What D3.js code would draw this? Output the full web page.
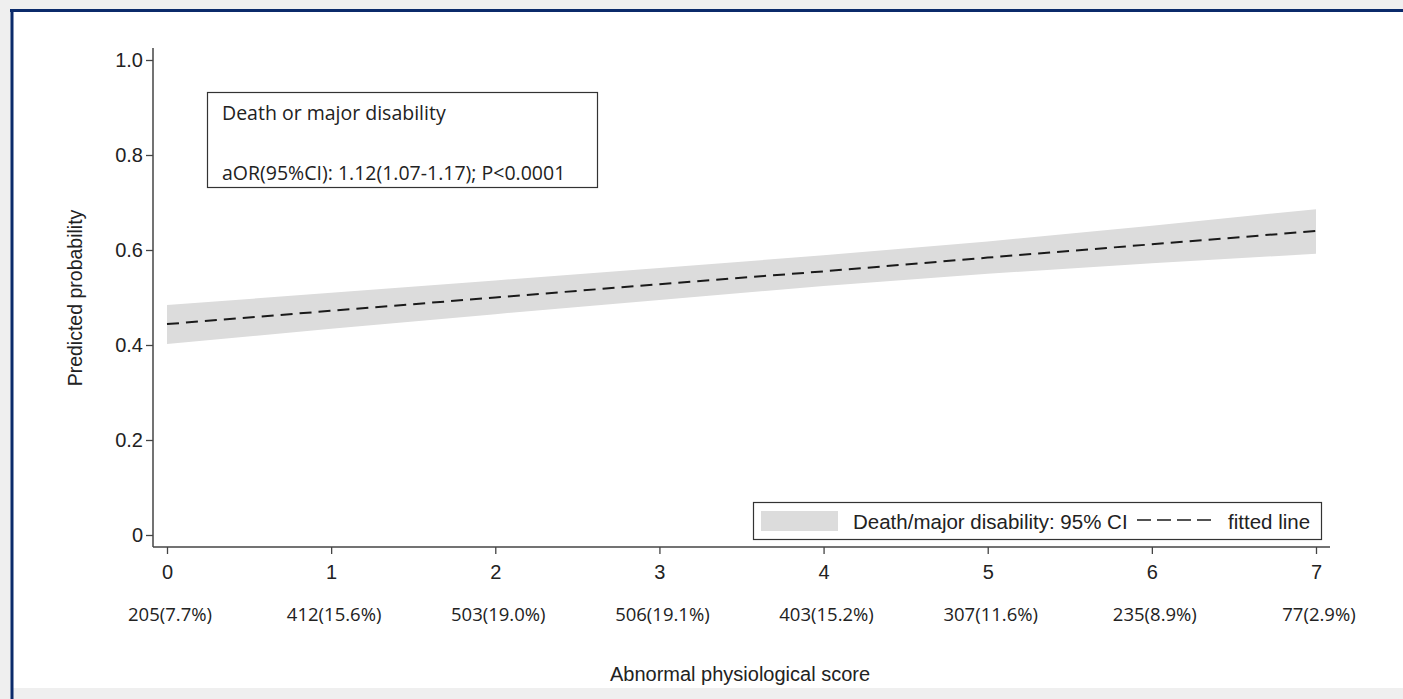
<!DOCTYPE html>
<html>
<head>
<meta charset="utf-8">
<script src="https://cdn.jsdelivr.net/npm/d3@7"></script>
<style>
  body { margin: 0; background: #efefef; }
  svg { display: block; }
</style>
</head>
<body>
<div id="chart"></div>
<script>
// data
const scores   = [0, 1, 2, 3, 4, 5, 6, 7];
const fitted   = [0.444, 0.472, 0.500, 0.528, 0.555, 0.584, 0.612, 0.640];
const ciLower  = [0.402, 0.434, 0.465, 0.495, 0.524, 0.550, 0.572, 0.592];
const ciUpper  = [0.484, 0.510, 0.536, 0.562, 0.589, 0.618, 0.651, 0.686];
const counts   = ["205(7.7%)", "412(15.6%)", "503(19.0%)", "506(19.1%)",
                  "403(15.2%)", "307(11.6%)", "235(8.9%)", "77(2.9%)"];
const yTicks   = [0, 0.2, 0.4, 0.6, 0.8, 1.0];

const width = 1403, height = 699;
const axisFont = "'Liberation Sans', Arial, sans-serif";
const bodyFont = "'Open Sans', Lato, sans-serif";

const svg = d3.select("#chart").append("svg")
    .attr("width", width)
    .attr("height", height);

// card with navy top/left border
svg.append("rect")
    .attr("x", 0).attr("y", 0).attr("width", width).attr("height", height)
    .attr("fill", "#efefef");
svg.append("rect")
    .attr("x", 12).attr("y", 10).attr("width", width - 12).attr("height", 678)
    .attr("fill", "#ffffff");
svg.append("line")
    .attr("x1", 10).attr("x2", width).attr("y1", 10.5).attr("y2", 10.5)
    .attr("stroke", "#0b2a6a").attr("stroke-width", 3);
svg.append("line")
    .attr("x1", 12).attr("x2", 12).attr("y1", 9).attr("y2", 699)
    .attr("stroke", "#0b2a6a").attr("stroke-width", 3);

const x = d3.scaleLinear().domain([0, 7]).range([167, 1316]);
const y = d3.scaleLinear().domain([0, 1]).range([535, 60]);

const plotLeft = 153, plotRight = 1330, plotTop = 48, plotBottom = 547;

// CI band
const band = d3.area()
    .x((d, i) => x(scores[i]))
    .y0((d, i) => y(ciLower[i]))
    .y1((d, i) => y(ciUpper[i]));

svg.append("path")
    .datum(scores)
    .attr("d", band)
    .attr("fill", "#dcdcdc");

// fitted line
const line = d3.line()
    .x((d, i) => x(scores[i]))
    .y((d, i) => y(fitted[i]));

svg.append("path")
    .datum(scores)
    .attr("d", line)
    .attr("fill", "none")
    .attr("stroke", "#1a1a1a")
    .attr("stroke-width", 2)
    .attr("stroke-dasharray", "12,7");

// axes
const yAxis = d3.axisLeft(y)
    .tickValues(yTicks)
    .tickSize(7)
    .tickPadding(3)
    .tickFormat(d => d === 0 ? "0" : d3.format(".1f")(d));

const gy = svg.append("g")
    .attr("transform", "translate(" + plotLeft + ",0)")
    .call(yAxis);
gy.select(".domain").remove();
gy.selectAll("line").attr("stroke", "#444").attr("stroke-width", 1.3);
gy.selectAll("text")
    .attr("font-family", axisFont).attr("font-size", 20).attr("fill", "#222");

svg.append("line")
    .attr("x1", plotLeft).attr("x2", plotLeft)
    .attr("y1", plotTop).attr("y2", plotBottom)
    .attr("stroke", "#444").attr("stroke-width", 1.5);

const xAxis = d3.axisBottom(x)
    .tickValues(scores)
    .tickSize(7)
    .tickPadding(11)
    .tickFormat(d3.format("d"));

const gx = svg.append("g")
    .attr("transform", "translate(0," + plotBottom + ")")
    .call(xAxis);
gx.select(".domain").remove();
gx.selectAll("line").attr("stroke", "#444").attr("stroke-width", 1.3);
gx.selectAll("text")
    .attr("font-family", axisFont).attr("font-size", 20).attr("fill", "#222");

svg.append("line")
    .attr("x1", plotLeft).attr("x2", plotRight)
    .attr("y1", plotBottom).attr("y2", plotBottom)
    .attr("stroke", "#444").attr("stroke-width", 1.5);

// counts under each tick
svg.selectAll(".count")
    .data(counts)
    .enter().append("text")
    .attr("class", "count")
    .attr("x", (d, i) => x(scores[i]) + 3)
    .attr("y", 621)
    .attr("text-anchor", "middle")
    .attr("font-family", bodyFont)
    .attr("font-size", 18.5)
    .attr("fill", "#222")
    .text(d => d);

// axis titles
svg.append("text")
    .attr("x", 740).attr("y", 681)
    .attr("text-anchor", "middle")
    .attr("font-family", axisFont).attr("font-size", 20).attr("fill", "#222")
    .text("Abnormal physiological score");

svg.append("text")
    .attr("transform", "translate(82,298) rotate(-90)")
    .attr("text-anchor", "middle")
    .attr("font-family", axisFont).attr("font-size", 19.5).attr("fill", "#222")
    .text("Predicted probability");

// annotation box
svg.append("rect")
    .attr("x", 207.5).attr("y", 92.5).attr("width", 390).attr("height", 95)
    .attr("fill", "#fff").attr("stroke", "#333").attr("stroke-width", 1.2);
svg.append("text")
    .attr("x", 222).attr("y", 120)
    .attr("font-family", bodyFont).attr("font-size", 19.5).attr("fill", "#222")
    .text("Death or major disability");
svg.append("text")
    .attr("x", 222).attr("y", 180)
    .attr("font-family", bodyFont).attr("font-size", 19.5).attr("fill", "#222")
    .text("aOR(95%CI): 1.12(1.07-1.17); P<0.0001");

// legend
svg.append("rect")
    .attr("x", 753.5).attr("y", 502.5).attr("width", 568).attr("height", 37)
    .attr("fill", "#fff").attr("stroke", "#333").attr("stroke-width", 1.2);
svg.append("rect")
    .attr("x", 761).attr("y", 511).attr("width", 77).attr("height", 20)
    .attr("fill", "#dcdcdc");
svg.append("text")
    .attr("x", 853).attr("y", 529)
    .attr("font-family", axisFont).attr("font-size", 20.5).attr("fill", "#222")
    .text("Death/major disability: 95% CI");
svg.append("line")
    .attr("x1", 1137).attr("x2", 1212).attr("y1", 520).attr("y2", 520)
    .attr("stroke", "#1a1a1a").attr("stroke-width", 1.6)
    .attr("stroke-dasharray", "14,6");
svg.append("text")
    .attr("x", 1228).attr("y", 529)
    .attr("font-family", axisFont).attr("font-size", 20.5).attr("fill", "#222")
    .text("fitted line");
</script>
</body>
</html>
